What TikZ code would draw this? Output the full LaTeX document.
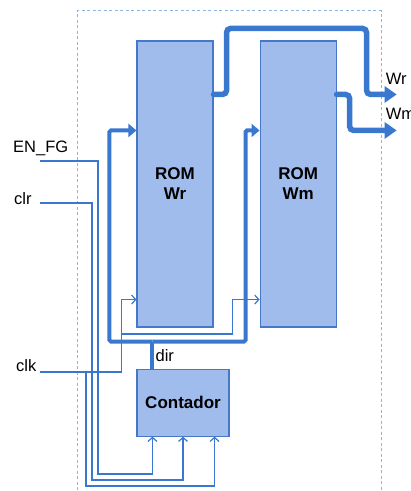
\documentclass[tikz,border=0pt]{standalone}
\usepackage{fontspec}
\setmainfont{Liberation Sans}
\usepackage{tikz}
\usetikzlibrary{arrows.meta, positioning, calc}
\definecolor{relleno}{HTML}{9FBCEC}
\definecolor{borde}{HTML}{4677C8}
\definecolor{linea}{HTML}{3A77CF}
\definecolor{marco}{HTML}{8EB4E3}
\tikzset{
  bloque/.style={rectangle, draw=borde, fill=relleno, line width=1.1pt,
    font=\fontsize{17}{20}\selectfont\bfseries, align=center, inner sep=0pt},
  rom/.style={bloque, minimum width=76pt, minimum height=286pt},
  senal/.style={font=\fontsize{16.5}{19}\selectfont, inner sep=0pt},
  fino/.style={draw=linea, line width=1.2pt, -{Straight Barb[length=4pt,width=9pt]}},
  bus/.style={draw=linea, line width=4pt, rounded corners=1.5pt},
  entrada/.style={bus, -{Triangle[length=8pt,width=13pt]}},
  salida/.style={draw=linea, line width=5.5pt, line cap=round, rounded corners=4pt,
    -{Triangle[length=12pt,width=16pt]}},
  recuadro/.style={draw=marco, line width=1pt, dash pattern=on 3pt off 2.5pt}
}
\begin{document}
\begin{tikzpicture}[x=1pt, y=1pt]
    \useasboundingbox (0,0) rectangle (411,491);
    \clip (0,0) rectangle (411,491);

    % Recuadro del modulo
    \draw[recuadro] (77,-5) |- (381,480) -- (381,-5);

    % Bloques
    \node[rom] (romwr) at (175,307) {ROM\\Wr};
    \node[rom, right=46pt of romwr] (romwm) {ROM\\Wm};
    \node[bloque, minimum width=92pt, minimum height=67pt,
          below=41pt of romwr.south west, anchor=north west] (cont) {Contador};

    % Puntos de conexion
    \coordinate (wrin) at ([yshift=-90pt]romwr.north west);
    \coordinate (wmin) at ([yshift=-90pt]romwm.north west);
    \coordinate (wrclk) at ([yshift=28pt]romwr.south west);
    \coordinate (wmclk) at ([yshift=28pt]romwm.south west);
    \coordinate (wrout) at ([yshift=-54pt]romwr.north east);
    \coordinate (wmout) at ([yshift=-54pt]romwm.north east);
    \coordinate (wrfin) at ([xshift=60pt]wmout);
    \coordinate (wmfin) at ([yshift=-36pt]wrfin);
    \coordinate (cdir) at ([xshift=16pt]cont.north west);
    \coordinate (bus) at ([yshift=27pt]cdir);
    \coordinate (c1) at ([xshift=16pt]cont.south west);
    \coordinate (c2) at (cont.south);
    \coordinate (c3) at ([xshift=-15pt]cont.south east);

    % Entradas
    \coordinate (en) at (40,330);
    \coordinate (clr) at (40,288);
    \coordinate (clk) at (40,119);
    \node[senal, anchor=base west] (ten) at (13,338) {EN\_FG};
    \node[senal, anchor=base west] (tclr) at (14,286) {clr};
    \node[senal, anchor=base west] (tclk) at (16,119) {clk};

    % Salidas
    \node[senal, anchor=base west] (twr) at ([xshift=-11pt,yshift=10pt]wrfin) {Wr};
    \node[senal, anchor=base west] (twm) at ([xshift=-11pt,yshift=11pt]wmfin) {Wm};
    \draw[salida] (wrout) -- ++(13,0) -- ++(0,66) -- ++(140,0) -- ++(0,-66) -- (wrfin);
    \draw[salida] (wmout) -- ++(13,0) |- (wmfin);

    % Bus dir
    \draw[bus] (cdir) -- (bus);
    \draw[entrada] (bus) -| ([xshift=-27pt]wrin) -- (wrin);
    \draw[entrada] (bus) -| ([xshift=-14pt]wmin) -- (wmin);
    \node[senal, anchor=base west] (tdir) at ([xshift=3pt,yshift=7pt]cdir) {dir};

    % Senales finas
    \draw[fino] (en) -| (98,17) -| (c1);
    \draw[fino] (clr) -| (92,11) -| (c2);
    \draw[fino] (clk) -| ([xshift=-15pt]wrclk) -- (wrclk);
    \draw[fino] (122,157) -| ([xshift=-27pt]wmclk) -- (wmclk);
    \draw[fino] (86,119) -- (86,5) -| (c3);
\end{tikzpicture}
\end{document}
